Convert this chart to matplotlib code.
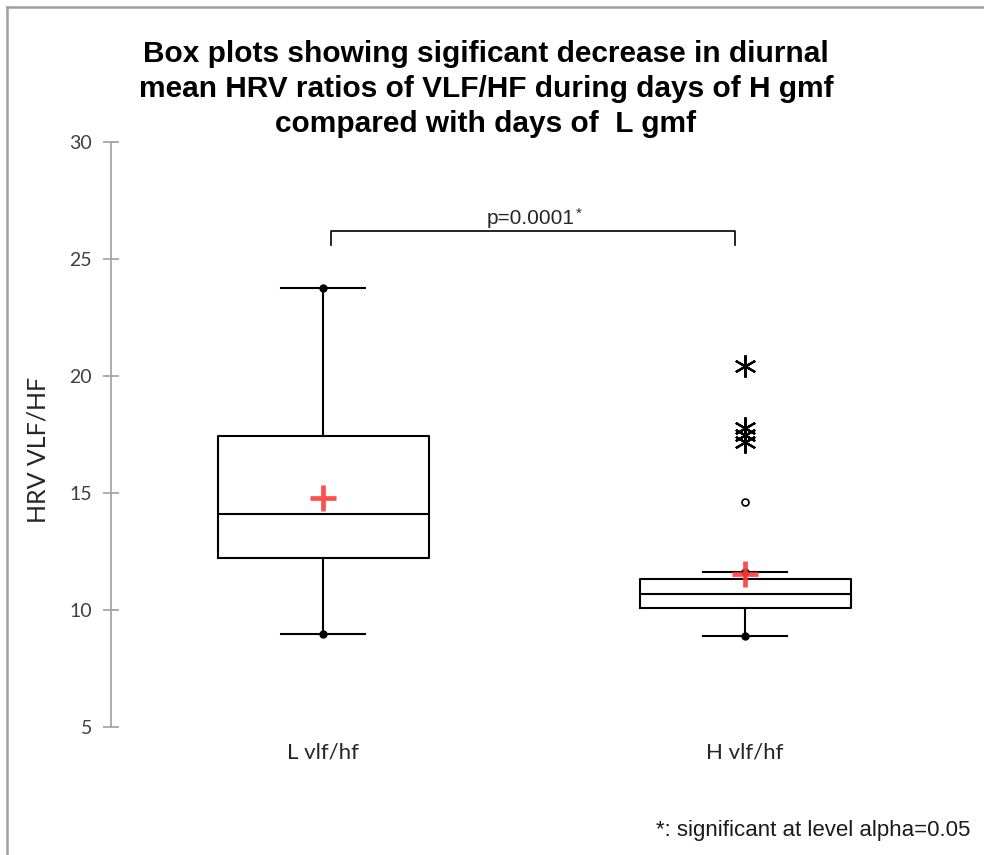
import matplotlib.pyplot as plt
from matplotlib.lines import Line2D

# summary stats for the two groups
groups = ['L vlf/hf', 'H vlf/hf']
whis_lo = [8.97, 8.89]
q1 = [12.21, 10.09]
medians = [14.09, 10.67]
q3 = [17.45, 11.34]
whis_hi = [23.76, 11.62]
means = [14.77, 11.53]
# outliers (only H group has them)
mild_out = [[], [14.62]]
far_out = [[], [17.18, 17.48, 17.78, 20.43]]

p_text = 'p=0.0001'
note = '*: significant at level alpha=0.05'

W, H = 984, 855
fig = plt.figure(figsize=(W/100, H/100), dpi=100)

# axes placed so x=1 and x=2 sit under the two boxes
ax_left, ax_right = 111, 984
y_top, y_bot = 142, 727
ax = fig.add_axes([ax_left/W, (H - y_bot)/H, (ax_right - ax_left)/W, (y_bot - y_top)/H])
px_per_x = 745 - 323
ax.set_xlim(1 - (323 - ax_left)/px_per_x, 2 + (ax_right - 745)/px_per_x)
ax.set_ylim(5, 30)

stats = []
for i in range(len(groups)):
    stats.append(dict(label=groups[i], whislo=whis_lo[i], q1=q1[i], med=medians[i],
                      q3=q3[i], whishi=whis_hi[i], mean=means[i], fliers=[]))

lw = 1.5
ax.bxp(stats, positions=[1, 2], widths=0.5, showmeans=True, showfliers=False,
       boxprops=dict(color='black', linewidth=lw),
       medianprops=dict(color='black', linewidth=lw),
       whiskerprops=dict(color='black', linewidth=lw),
       capprops=dict(color='black', linewidth=lw),
       capwidths=0.2,
       meanprops=dict(marker='+', markersize=19, markeredgewidth=3.4,
                      markeredgecolor='#ff3d3d', alpha=0.9, zorder=6))

# dots at whisker ends
for i in range(len(groups)):
    ax.plot([i + 1, i + 1], [whis_lo[i], whis_hi[i]], 'o', color='black',
            markersize=5, linestyle='none', zorder=4)
    if mild_out[i]:
        ax.plot([i + 1]*len(mild_out[i]), mild_out[i], 'o', markerfacecolor='white',
                markeredgecolor='black', markersize=5, markeredgewidth=1.2,
                linestyle='none')
    if far_out[i]:
        ax.plot([i + 1]*len(far_out[i]), far_out[i], marker=(6, 2, 0), color='black',
                markersize=16, markeredgewidth=1.6, linestyle='none')

# axis styling: only a grey left spine with crossing ticks
for s in ['top', 'right', 'bottom']:
    ax.spines[s].set_visible(False)
ax.spines['left'].set_color('#a6a6a6')
ax.spines['left'].set_linewidth(1.3)
ax.set_yticks([5, 10, 15, 20, 25, 30])
ax.tick_params(axis='y', direction='inout', length=11, width=1.3, color='#a6a6a6',
               labelsize=14, labelcolor='#404040', pad=8)
for t in ax.get_yticklabels():
    t.set_family('Lato')
ax.set_xticks([1, 2])
ax.set_xticklabels(groups, fontsize=16, family='Lato', color='#262626')
ax.tick_params(axis='x', length=0, pad=11)
ax.set_ylabel('HRV VLF/HF', fontsize=18, family='Lato', color='#262626')
ax.yaxis.set_label_coords(50/W, (H - 450)/H, transform=fig.transFigure)
ax.patch.set_visible(False)

# significance bracket
def px2x(px):
    return 1 + (px - 323)/px_per_x

ax.plot([px2x(331), px2x(331), px2x(735), px2x(735)], [25.6, 26.2, 26.2, 25.6],
        color='black', linewidth=1.2, clip_on=False)
ax.text(px2x(575), 26.75, p_text, ha='right', va='center', fontsize=15,
        family='Liberation Sans', color='#262626')
ax.text(px2x(576), 26.95, '*', ha='left', va='center', fontsize=11,
        family='Liberation Sans', color='#262626')

fig.text(486/W, 1 - 89/H,
         'Box plots showing sigificant decrease in diurnal\n'
         'mean HRV ratios of VLF/HF during days of H gmf\n'
         'compared with days of  L gmf',
         ha='center', va='center', fontsize=21.5, fontweight='bold',
         family='Liberation Sans', linespacing=1.32)
fig.text(970/W, 1 - 830/H, note, ha='right', va='center', fontsize=16,
         family='Liberation Sans', color='#1a1a1a')

# grey chart frame along top and left edges
fig.add_artist(Line2D([7/W, 1], [1 - 7/H, 1 - 7/H], color='#a0a0a0', linewidth=1.8,
                      transform=fig.transFigure))
fig.add_artist(Line2D([7/W, 7/W], [0, 1 - 7/H], color='#a0a0a0', linewidth=1.8,
                      transform=fig.transFigure))

fig.savefig('out.png', dpi=100)
